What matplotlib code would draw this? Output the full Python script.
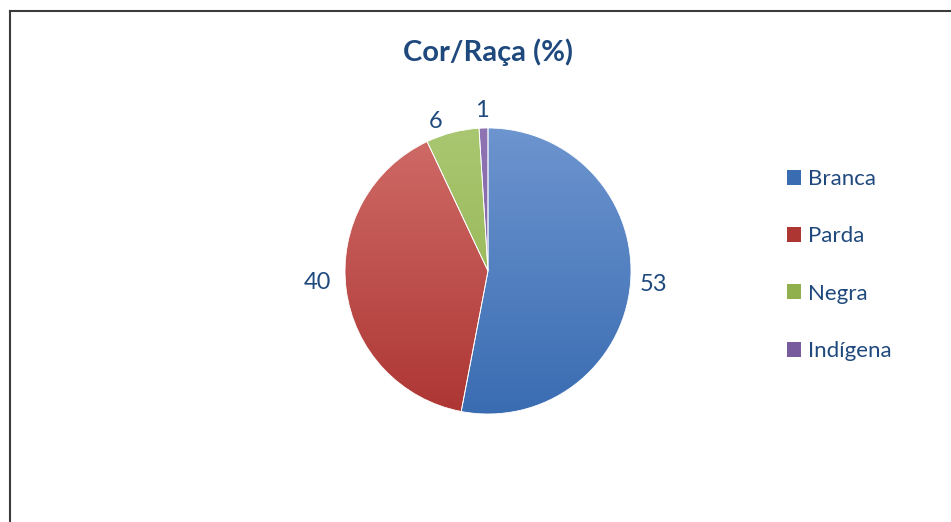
import numpy as np
import matplotlib
matplotlib.use("Agg")
import matplotlib.pyplot as plt
from matplotlib.colors import LinearSegmentedColormap
from matplotlib.patches import Patch

# data
categories = ["Branca", "Parda", "Negra", "Indígena"]
values = [53, 40, 6, 1]
title = "Cor/Raça (%)"

# (top, bottom) gradient colours per slice
grads = [("#6d95cf", "#3a6cb2"), ("#d06c68", "#ad3633"),
         ("#a9c770", "#8fb04c"), ("#8f74b3", "#775b9c")]
text_col = "#1f497d"

plt.rcParams["font.family"] = ["Lato", "DejaVu Sans"]

W, H = 951, 522
fig = plt.figure(figsize=(W / 100, H / 100), dpi=100)
ax = fig.add_axes([0, 0, 1, 1])

# chart frame (only top and left edges visible)
ax.plot([10, W], [H - 11, H - 11], color="#3c3c3c", lw=1.5)
ax.plot([10, 10], [0, H - 11], color="#3c3c3c", lw=1.5)

cx, cy, r = 488, H - 271, 143
wedges, texts = ax.pie(values, labels=[str(v) for v in values],
                       startangle=90, counterclock=False,
                       center=(cx, cy), radius=r, labeldistance=1.16,
                       frame=True,
                       wedgeprops=dict(linewidth=0.6, edgecolor="white"),
                       textprops=dict(fontsize=17, color=text_col))
ax.set_xlim(0, W)
ax.set_ylim(0, H)
ax.set_aspect("equal")
ax.axis("off")

# vertical gradient fill, clipped to each wedge
grad = np.linspace(0, 1, 256).reshape(-1, 1)
for w, (top, bot) in zip(wedges, grads):
    w.set_facecolor("none")
    cmap = LinearSegmentedColormap.from_list("g", [top, bot])
    im = ax.imshow(grad, cmap=cmap, aspect="auto",
                   extent=(cx - r, cx + r, cy - r, cy + r), zorder=0.5)
    im.set_clip_path(w)

# Excel-style label placement: nudge labels around the rim
nudges = [(0, 2), (-6, 9), (-11, -11), (-1, -5)]
for t, (dx, dy) in zip(texts, nudges):
    x, y = t.get_position()
    t.set_position((x + dx, y + dy))
    t.set_ha("center")
    t.set_va("center")

ax.text(cx, H - 52, title, ha="center", va="center", fontsize=21,
        fontweight="bold", color=text_col)

handles = [Patch(facecolor=g[1]) for g in grads]
leg = ax.legend(handles, categories, loc="center left",
                bbox_to_anchor=(767 / W, (H - 265) / H), frameon=False,
                fontsize=16, handlelength=0.65, handleheight=0.65,
                handletextpad=0.3, labelspacing=1.68)
for t in leg.get_texts():
    t.set_color(text_col)

fig.savefig("out.png", dpi=100, facecolor="white")
